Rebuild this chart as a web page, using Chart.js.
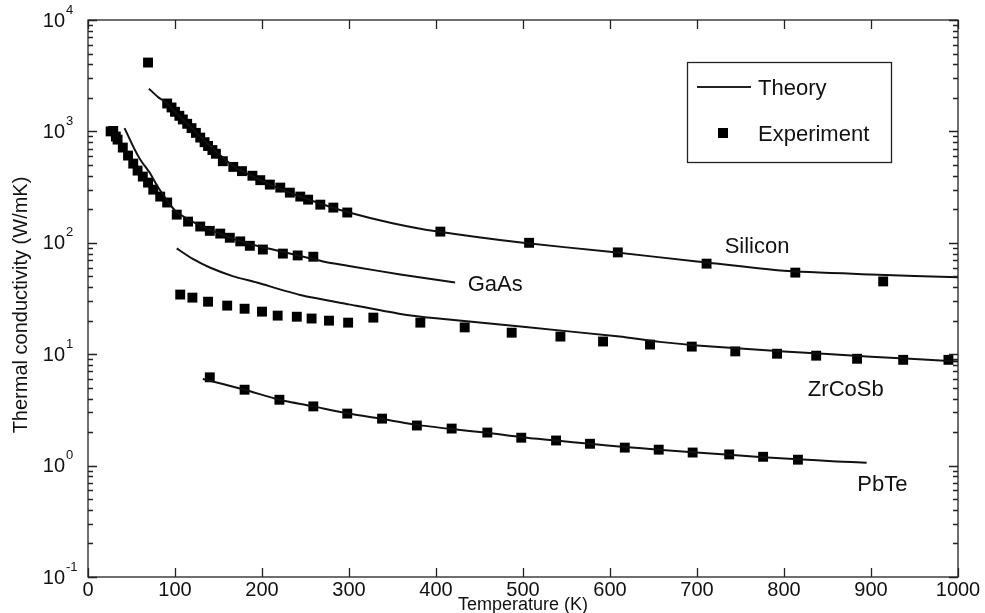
<!DOCTYPE html>
<html>
<head>
<meta charset="utf-8">
<script src="https://cdn.jsdelivr.net/npm/chart.js@4/dist/chart.umd.min.js"></script>
<style>
  html, body { margin: 0; padding: 0; background: #fff; }
  #wrap { width: 985px; height: 613px; }
</style>
</head>
<body>
<div id="wrap"><canvas id="chart" width="985" height="613"></canvas></div>
<script>
// temperatures (K) and thermal conductivity (W/mK)
const siliconExpT = [69, 91, 96, 100, 105, 109, 114, 119, 124, 129, 134, 138, 143, 147, 155, 167, 177, 189, 198, 209, 221, 232, 244, 253, 267, 282, 298, 405, 507, 609, 711, 813, 914];
const siliconExpK = [4150, 1780, 1640, 1500, 1380, 1280, 1170, 1070, 970, 880, 800, 740, 680, 630, 540, 480, 440, 400, 365, 333, 313, 282, 260, 244, 220, 207, 187, 126, 100, 82, 65, 54, 45];
const siliconThT = [70, 80, 91, 100, 110, 120, 130, 150, 170, 200, 230, 260, 300, 350, 400, 500, 600, 700, 800, 900, 1000];
const siliconThK = [2420, 2050, 1780, 1500, 1260, 1060, 880, 630, 470, 360, 285, 235, 187, 150, 127, 100, 83, 68, 56, 52, 49];

const gaasExpT = [26, 29, 32, 34, 40, 46, 52, 57, 63, 69, 75, 83, 91, 102, 115, 129, 140, 152, 163, 175, 186, 201, 224, 241, 259];
const gaasExpK = [1000, 1010, 900, 844, 716, 607, 514, 445, 393, 347, 300, 260, 230, 179, 155, 140, 128, 121, 111, 103, 94, 87, 80, 77, 75];
const gaasThT = [42, 52, 60, 71, 80, 91, 100, 120, 150, 180, 210, 244, 270, 305, 359, 422];
const gaasThK = [1070, 730, 560, 425, 320, 240, 195, 155, 122, 100, 88, 76, 68, 61, 52, 44];

const zrcosbExpT = [106, 120, 138, 160, 180, 200, 218, 240, 257, 277, 299, 328, 382, 433, 487, 543, 592, 646, 694, 744, 792, 837, 884, 937, 989];
const zrcosbExpK = [34.3, 32.2, 29.6, 27.3, 25.6, 24.1, 22.2, 21.7, 20.9, 20.0, 19.2, 21.3, 19.2, 17.4, 15.6, 14.4, 13.0, 12.2, 11.7, 10.6, 10.1, 9.7, 9.1, 8.9, 8.9];
const zrcosbThT = [102, 120, 140, 167, 194, 244, 300, 359, 400, 500, 611, 657, 700, 800, 900, 1000];
const zrcosbThK = [89, 72, 60, 50, 44, 34, 28, 23, 21, 17.6, 14.4, 12.9, 12, 10.6, 9.5, 8.6];

const pbteExpT = [140, 180, 220, 259, 298, 338, 378, 418, 459, 498, 538, 577, 617, 656, 695, 737, 776, 816];
const pbteExpK = [6.2, 4.8, 3.9, 3.4, 2.93, 2.64, 2.29, 2.15, 1.98, 1.78, 1.68, 1.57, 1.45, 1.39, 1.31, 1.26, 1.2, 1.13];
const pbteThT = [132, 180, 220, 259, 298, 338, 378, 418, 459, 498, 538, 577, 617, 656, 695, 737, 776, 816, 860, 895];
const pbteThK = [6.0, 4.8, 3.9, 3.4, 2.95, 2.62, 2.32, 2.13, 1.97, 1.8, 1.68, 1.57, 1.47, 1.39, 1.32, 1.25, 1.19, 1.14, 1.09, 1.06];

const xTicks = [0, 100, 200, 300, 400, 500, 600, 700, 800, 900, 1000];
const yExponents = [-1, 0, 1, 2, 3, 4];

// material names written next to the curves: [label, temperature, conductivity]
const curveLabels = [
    ['Silicon', 769, 92],
    ['GaAs', 468, 42],
    ['ZrCoSb', 871, 4.8],
    ['PbTe', 913, 0.675]
];

const FONT = '"Liberation Sans", Arial, Helvetica, sans-serif';

const pts = (ts, ks) => ts.map((t, i) => ({ x: t, y: ks[i] }));

function theory(ts, ks) {
    return {
        type: 'line',
        data: pts(ts, ks),
        borderColor: '#111',
        borderWidth: 2,
        pointRadius: 0,
        tension: 0.2,
        fill: false
    };
}

function experiment(ts, ks) {
    return {
        type: 'scatter',
        data: pts(ts, ks),
        pointStyle: 'rect',
        pointRadius: 7,
        pointHoverRadius: 7,
        backgroundColor: '#000',
        borderWidth: 0
    };
}

// frame, inward ticks, labels and legend in the old MATLAB look
const framePlugin = {
    id: 'frame',
    afterDraw(chart) {
        const { ctx, chartArea: a, scales: { x, y } } = chart;
        ctx.save();
        ctx.strokeStyle = '#222';
        ctx.lineWidth = 1.3;
        ctx.strokeRect(a.left, a.top, a.right - a.left, a.bottom - a.top);

        ctx.beginPath();
        xTicks.forEach(t => {
            const px = Math.round(x.getPixelForValue(t)) + 0.5;
            ctx.moveTo(px, a.bottom); ctx.lineTo(px, a.bottom - 9);
            ctx.moveTo(px, a.top); ctx.lineTo(px, a.top + 9);
        });
        yExponents.forEach(e => {
            for (let m = 1; m <= 9; m++) {
                if (e === 4 && m > 1) break;
                const py = Math.round(y.getPixelForValue(m * Math.pow(10, e))) + 0.5;
                const len = m === 1 ? 9 : 5;
                ctx.moveTo(a.left, py); ctx.lineTo(a.left + len, py);
                ctx.moveTo(a.right, py); ctx.lineTo(a.right - len, py);
            }
        });
        ctx.stroke();

        ctx.fillStyle = '#111';
        ctx.font = '20px ' + FONT;
        ctx.textAlign = 'center';
        ctx.textBaseline = 'middle';
        xTicks.forEach(t => ctx.fillText(String(t), x.getPixelForValue(t), a.bottom + 13));

        yExponents.forEach(e => {
            const py = y.getPixelForValue(Math.pow(10, e));
            ctx.font = '20px ' + FONT;
            ctx.textAlign = 'right';
            ctx.fillText('10', 65, py + 1);
            ctx.font = '13px ' + FONT;
            ctx.textAlign = 'left';
            ctx.fillText(String(e), 66, py - 10);
        });

        ctx.font = '18px ' + FONT;
        ctx.textAlign = 'center';
        ctx.fillText('Temperature (K)', (a.left + a.right) / 2, 605);
        ctx.save();
        ctx.font = '20px ' + FONT;
        ctx.translate(21, 305);
        ctx.rotate(-Math.PI / 2);
        ctx.fillText('Thermal conductivity (W/mK)', 0, 0);
        ctx.restore();

        ctx.font = '22px ' + FONT;
        curveLabels.forEach(([name, t, k]) => {
            ctx.fillText(name, x.getPixelForValue(t), y.getPixelForValue(k));
        });

        // legend box
        ctx.lineWidth = 1.3;
        ctx.strokeRect(687.5, 62.5, 204, 100);
        ctx.lineWidth = 2;
        ctx.beginPath();
        ctx.moveTo(697, 87); ctx.lineTo(751, 87);
        ctx.stroke();
        ctx.fillStyle = '#000';
        ctx.fillRect(718, 128, 10, 10);
        ctx.fillStyle = '#111';
        ctx.textAlign = 'left';
        ctx.fillText('Theory', 758, 89);
        ctx.fillText('Experiment', 758, 135);
        ctx.restore();
    }
};

new Chart(document.getElementById('chart'), {
    data: {
        datasets: [
            theory(siliconThT, siliconThK),
            experiment(siliconExpT, siliconExpK),
            theory(gaasThT, gaasThK),
            experiment(gaasExpT, gaasExpK),
            theory(zrcosbThT, zrcosbThK),
            experiment(zrcosbExpT, zrcosbExpK),
            theory(pbteThT, pbteThK),
            experiment(pbteExpT, pbteExpK)
        ]
    },
    options: {
        responsive: false,
        animation: false,
        devicePixelRatio: 1,
        layout: { padding: { top: 20, right: 27, left: 0, bottom: 0 } },
        plugins: { legend: { display: false }, tooltip: { enabled: false } },
        scales: {
            x: {
                type: 'linear', min: 0, max: 1000,
                grid: { display: false }, border: { display: false },
                ticks: { display: false },
                afterFit: s => { s.height = 36; }
            },
            y: {
                type: 'logarithmic', min: 0.1, max: 10000,
                grid: { display: false }, border: { display: false },
                ticks: { display: false },
                afterFit: s => { s.width = 88; }
            }
        }
    },
    plugins: [framePlugin]
});
</script>
</body>
</html>
